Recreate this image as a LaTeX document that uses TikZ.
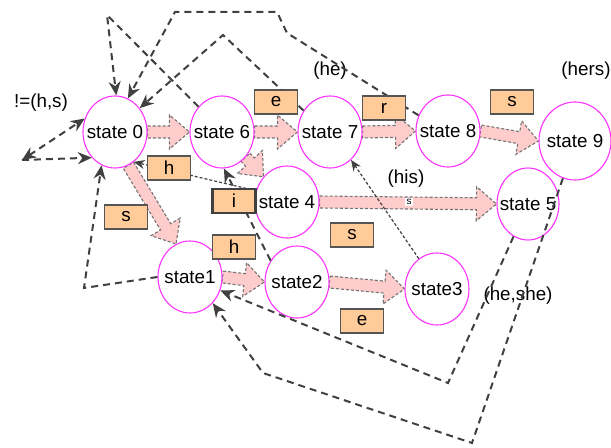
\documentclass[tikz,border=0pt]{standalone}
\usepackage{fontspec}
\setmainfont{Liberation Sans}
\usepackage{tikz}
\usetikzlibrary{
    arrows.meta,
    shapes.geometric,
    calc,
    backgrounds
}
\definecolor{statemagenta}{HTML}{FF33FF}
\definecolor{arrowpink}{HTML}{FFCCCC}
\definecolor{boxfill}{HTML}{FFCC99}
\definecolor{boxborder}{HTML}{555555}
\definecolor{linkgray}{HTML}{404040}
\tikzstyle{state} = [
    ellipse,
    draw=statemagenta,
    fill=white,
    line width=0.55pt,
    minimum width=32pt,
    minimum height=36pt,
    inner xsep=-8pt,
    inner ysep=0pt,
    font=\fontsize{9.4}{11}\selectfont
]
\tikzstyle{sym} = [
    rectangle,
    draw=boxborder,
    fill=boxfill,
    line width=0.75pt,
    minimum width=21.5pt,
    minimum height=12pt,
    inner sep=0pt,
    font=\fontsize{9.4}{11}\selectfont
]
\tikzstyle{output} = [
    inner sep=0pt,
    font=\fontsize{9.4}{11}\selectfont
]
\tikzstyle{trans} = [
    fill=arrowpink,
    draw=gray!90!black,
    line width=0.55pt,
    dash pattern=on 1.5pt off 1pt
]
\tikzstyle{fail} = [
    draw=linkgray,
    line width=1pt,
    dash pattern=on 3.5pt off 2.5pt,
    >={Stealth[length=7pt,width=6pt]},
    ->
]
\tikzstyle{faildot} = [
    draw=linkgray,
    line width=0.6pt,
    dash pattern=on 1.5pt off 1pt,
    >={Stealth[length=5.5pt,width=4.5pt]},
    ->
]
% fat goto arrow from #1 to #2
\newcommand{\transarrow}[2]{%
    \coordinate (hb) at ($(#2)!10pt!(#1)$);
    \draw[trans] ($(#1)!3pt!90:(#2)$) -- ($(hb)!3pt!-90:(#1)$)
        -- ($(hb)!8.5pt!-90:(#1)$) -- (#2) -- ($(hb)!8.5pt!90:(#1)$)
        -- ($(hb)!3pt!90:(#1)$) -- ($(#1)!3pt!-90:(#2)$) -- cycle;
}

\begin{document}
\begin{tikzpicture}[x=0.5pt, y=-0.5pt]
        \useasboundingbox (0,0) rectangle (611,448);

        % states, h-e-r-s branch on top
        \node[state] (s0) at (115,132) {state 0};
        \node[state] (s6) at (222,132) {state 6};
        \node[state] (s7) at (330,132) {state 7};
        \node[state] (s8) at (448,131) {state 8};
        \node[state, minimum width=36pt, minimum height=39pt] (s9) at (575,141) {state 9};

        % h-i-s branch
        \node[state] (s4) at (287,202) {state 4};
        \node[state, minimum width=31pt] (s5) at (528,204) {state 5};

        % s-h-e branch
        \node[state] (s1) at (190,277) {state1};
        \node[state] (s2) at (297,282) {state2};
        \node[state] (s3) at (437,289) {state3};

        % goto arrows, behind the states
        \begin{scope}[on background layer]
            \transarrow{s0.east}{s6.west}
            \transarrow{s6.east}{s7.west}
            \transarrow{s7.east}{s8.west}
            \transarrow{s8.east}{s9.west}
            \transarrow{s6.-47}{s4.133}
            \transarrow{s4.east}{s5.west}
            \transarrow{s0.-68}{s1.113}
            \transarrow{s1.east}{s2.west}
            \transarrow{s2.east}{s3.west}
        \end{scope}

        % outputs
        \node[output] (out0) at (41,103) {!=(h,s)};
        \node[output] (out7) at (330,71) {(he)};
        \node[output] (out9) at (586,71) {(hers)};
        \node[output] (out5) at (406,179) {(his)};
        \node[output] (out3) at (518,296) {(he,she)};
        \node[inner sep=0.6pt, fill=white, font=\fontsize{5}{6}\selectfont] (small) at (409,202) {s};

        % failure links
        \coordinate (loop) at (22,160);
        \draw[fail, <->] (loop) -- (s0.156);
        \draw[fail] (loop) -- (s0.228);
        \draw[fail] (s1.west) -- (84,288) -- (s0.-112);
        \draw[fail] (s6.133) -- (107,15) -- (s0.88);
        \draw[fail] (s7.141) -- (223,35) -- (s0.44);
        \draw[fail] (s8.152) -- (287,33) -- (277,12) -- (175,12) -- (s0.69);
        \draw[faildot] (s4.160) -- (s0.-58);
        \draw[fail] (s2.141) -- (s6.-87);
        \draw[faildot] (s3.121) -- (s7.-53);
        \draw[fail] (s5.-114) -- (448,383) -- (s1.-24);
        \draw[fail] (s9.-108) -- (472,443) -- (263,373) -- (s1.-49);

        % goto symbols
        \node[sym] (lh0) at (169,168) {h};
        \node[sym] (le7) at (276,102) {e};
        \node[sym] (lr8) at (384,108) {r};
        \node[sym] (ls9) at (512,102) {s};
        \node[sym, line width=1.1pt, draw=black!75] (li4) at (234,201) {i};
        \node[sym] (ls1) at (126,217) {s};
        \node[sym] (lh2) at (234,247) {h};
        \node[sym] (ls5) at (352,235) {s};
        \node[sym] (le3) at (362,321) {e};
    \end{tikzpicture}
\end{document}
